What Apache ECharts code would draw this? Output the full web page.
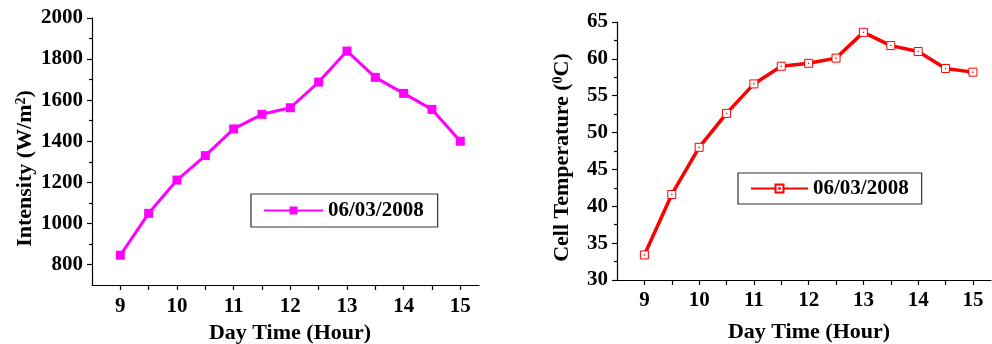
<!DOCTYPE html>
<html>
<head>
<meta charset="utf-8">
<script src="https://cdn.jsdelivr.net/npm/echarts@6/dist/echarts.min.js"></script>
<style>
  html, body { margin: 0; padding: 0; background: #ffffff; }
  #chart { width: 992px; height: 344px; }
</style>
</head>
<body>
<div id="chart"></div>
<script>
// Hourly measurements, 06/03/2008
const hours = [9, 9.5, 10, 10.5, 11, 11.5, 12, 12.5, 13, 13.5, 14, 14.5, 15];
const intensity = [845, 1049, 1211, 1330, 1460, 1531, 1563, 1688, 1839, 1711, 1633, 1555, 1400];
const cellTemp = [33.4, 41.6, 48.0, 52.6, 56.6, 59.0, 59.4, 60.1, 63.6, 61.8, 61.0, 58.7, 58.2];

// Tick positions and labels
const hourLabels = [9, 10, 11, 12, 13, 14, 15];
const hourTicks = [9, 9.5, 10, 10.5, 11, 11.5, 12, 12.5, 13, 13.5, 14, 14.5, 15];
const intensityLabels = [800, 1000, 1200, 1400, 1600, 1800, 2000];
const intensityMinorTicks = [900, 1100, 1300, 1500, 1700, 1900];
const legendDate = '06/03/2008';

const FONT = '"Liberation Serif", "Times New Roman", serif';
const chart = echarts.init(document.getElementById('chart'), null, { renderer: 'canvas' });

const pair = (xs, ys) => xs.map((x, i) => [x, ys[i]]);
const plain = v => String(v);

const axisLine = { show: true, lineStyle: { color: '#000', width: 1.2 } };
const tickStyle = { color: '#000', width: 1.2 };
const labelFont = { fontFamily: FONT, fontWeight: 'bold', fontSize: 21, color: '#000' };
const nameFont = { fontFamily: FONT, fontWeight: 'bold', fontSize: 22, color: '#000' };
const supStyle = { fontFamily: FONT, fontWeight: 'bold', fontSize: 14, color: '#000', verticalAlign: 'top' };

function xAxisFor(gridIndex, gap, margin, shift) {
  return {
    type: 'value', gridIndex, min: 8.5, max: 15.33,
    axisLine,
    splitLine: { show: false },
    axisTick: { show: true, length: 5, lineStyle: tickStyle, customValues: hourTicks },
    axisLabel: Object.assign({ margin, customValues: hourLabels, formatter: plain }, labelFont),
    name: 'Day Time (Hour)', nameLocation: 'middle', nameGap: gap,
    nameTextStyle: Object.assign({ padding: [0, 0, 0, shift] }, nameFont)
  };
}

// open square with a small centre dot
const openSquare = 'path://M0,0H10V10H0Z M4.6,4.6H5.4V5.4H4.6Z';

const legendText = { fontFamily: FONT, fontWeight: 'bold', fontSize: 21, color: '#000', lineHeight: 20 };

const option = {
  animation: false,
  backgroundColor: '#ffffff',
  grid: [
    { left: 92, top: 18, width: 387, height: 267, outerBoundsMode: 'none' },
    { left: 617, top: 22, width: 374, height: 258, outerBoundsMode: 'none' }
  ],
  xAxis: [xAxisFor(0, 31, 11, 9), xAxisFor(1, 41, 10, 10)],
  yAxis: [
    {
      type: 'value', gridIndex: 0, min: 700, max: 2000,
      axisLine, splitLine: { show: false },
      axisTick: { show: true, length: 5, lineStyle: tickStyle, customValues: intensityLabels },
      axisLabel: Object.assign({ margin: 9, customValues: intensityLabels, formatter: plain }, labelFont),
      name: 'Intensity (W/m{sup|2})', nameLocation: 'middle', nameGap: 56,
      nameTextStyle: Object.assign({}, nameFont, { padding: [0, 34, 0, 0], rich: { sup: supStyle } })
    },
    {
      // minor ticks of the intensity axis
      type: 'value', gridIndex: 0, min: 700, max: 2000, position: 'left',
      axisLine: { show: false }, splitLine: { show: false },
      axisTick: { show: true, length: 3, lineStyle: tickStyle, customValues: intensityMinorTicks },
      axisLabel: { show: false }
    },
    {
      type: 'value', gridIndex: 1, min: 30, max: 65, interval: 5,
      axisLine, splitLine: { show: false },
      axisTick: { show: true, length: 5, lineStyle: tickStyle },
      minorTick: { show: true, splitNumber: 2, length: 3, lineStyle: tickStyle },
      minorSplitLine: { show: false },
      axisLabel: Object.assign({ margin: 9, formatter: plain }, labelFont),
      name: 'Cell Temperature ({sup|0}C)', nameLocation: 'middle', nameGap: 44,
      nameTextStyle: Object.assign({}, nameFont, { padding: [0, 13, 0, 0], rich: { sup: supStyle } })
    }
  ],
  legend: [
    {
      data: ['Intensity ' + legendDate], left: 251, top: 194,
      formatter: () => legendDate,
      itemWidth: 59, itemHeight: 10, itemGap: 6,
      padding: [6, 14, 6, 12],
      borderColor: '#333', borderWidth: 1.2, borderRadius: 0,
      textStyle: legendText,
      selectedMode: false
    },
    {
      data: ['Cell Temperature ' + legendDate], left: 738, top: 173,
      formatter: () => legendDate,
      itemWidth: 57, itemHeight: 10, itemGap: 6,
      padding: [5, 13, 5, 12],
      borderColor: '#333', borderWidth: 1.2, borderRadius: 0,
      textStyle: legendText,
      selectedMode: false
    }
  ],
  series: [
    {
      name: 'Intensity ' + legendDate, type: 'line',
      xAxisIndex: 0, yAxisIndex: 0,
      data: pair(hours, intensity),
      symbol: 'rect', symbolSize: 9,
      lineStyle: { color: '#ff00ff', width: 3 },
      itemStyle: { color: '#ff00ff' }
    },
    {
      name: 'Cell Temperature ' + legendDate, type: 'line',
      xAxisIndex: 1, yAxisIndex: 2,
      data: pair(hours, cellTemp),
      symbol: openSquare, symbolSize: 8,
      lineStyle: { color: '#ff0000', width: 3.5 },
      itemStyle: { color: '#ffffff', borderColor: '#ff0000', borderWidth: 1 }
    }
  ]
};

chart.setOption(option);
</script>
</body>
</html>
